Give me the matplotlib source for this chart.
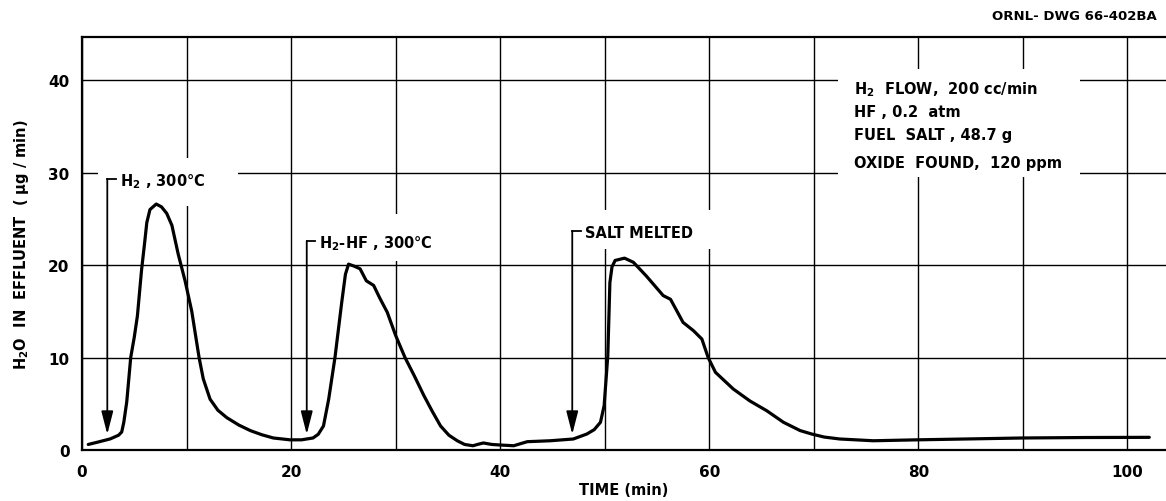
import matplotlib
matplotlib.use("Agg")
import matplotlib.pyplot as plt
from matplotlib.patches import Rectangle

# H2O in effluent vs time
time_min = [0.6, 1.5, 2.7, 3.5, 3.8, 4.0, 4.28, 4.66, 5.0, 5.3, 5.7, 6.0, 6.2, 6.5, 7.1,
            7.6, 8.1, 8.6, 9.2, 9.86, 10.5, 11.2, 11.6, 12.25, 13.0, 13.85, 15.0,
            16.1, 17.2, 18.3, 19.9, 21.0, 22.1, 22.6, 23.1, 23.6, 24.2, 24.85, 25.2,
            25.5, 26.0, 26.6, 27.2, 27.9, 28.5, 29.2, 30.0, 30.9, 31.8, 32.7, 33.5,
            34.3, 35.1, 35.9, 36.6, 37.4, 38.0, 38.4, 39.2, 40.0, 41.3, 42.0, 42.6,
            44.8, 47.0, 48.3, 49.0, 49.6, 49.95, 50.3, 50.5, 50.7, 51.0, 51.9, 52.75,
            54.0, 55.6, 56.3, 57.5, 58.5, 59.3, 59.9, 60.6, 62.3, 63.9, 65.5, 67.1,
            68.7, 69.8, 71.0, 72.5, 75.7, 79.9, 85.0, 90.0, 96.0, 102.1]
h2o_ug_min = [0.6, 0.85, 1.2, 1.6, 1.95, 3.0, 5.2, 10.0, 12.2, 14.5, 19.5, 22.5, 24.6, 26.0, 26.6,
              26.3, 25.6, 24.3, 21.2, 18.3, 15.0, 10.0, 7.7, 5.5, 4.3, 3.5, 2.7,
              2.1, 1.65, 1.3, 1.1, 1.1, 1.3, 1.7, 2.6, 5.5, 10.0, 16.0, 19.0,
              20.1, 19.9, 19.6, 18.3, 17.8, 16.4, 14.9, 12.4, 10.0, 8.0, 5.9, 4.2,
              2.6, 1.6, 1.0, 0.6, 0.46, 0.65, 0.76, 0.6, 0.54, 0.46, 0.7, 0.9,
              1.0, 1.19, 1.73, 2.2, 3.0, 4.8, 10.2, 18.1, 19.8, 20.5, 20.75, 20.3,
              18.8, 16.7, 16.3, 13.8, 12.9, 12.0, 10.0, 8.4, 6.6, 5.3, 4.25, 3.0,
              2.1, 1.73, 1.4, 1.19, 1.0, 1.1, 1.2, 1.3, 1.35, 1.37]

# event markers: (time, label)
events = [(2.42, r"H$_\mathbf{2}$ , 300°C"),
          (21.5, r"H$_\mathbf{2}$-HF , 300°C"),
          (46.9, "SALT MELTED")]
event_top = [29.3, 22.6, 23.7]

notes = [r"H$_\mathbf{2}$  FLOW,  200 cc/min",
         "HF , 0.2  atm",
         "FUEL  SALT , 48.7 g",
         "OXIDE  FOUND,  120 ppm"]

plt.rcParams["mathtext.default"] = "bf"

fig = plt.figure(figsize=(11.66, 5.02), dpi=100)
ax = fig.add_axes([82 / 1166, 51 / 502, 1 - 82 / 1166, 413.3 / 502])
ax.set_xlim(0, 103.7)
ax.set_ylim(0, 44.7)

ax.set_xticks(range(0, 101, 10))
ax.set_xticklabels([str(v) if v % 20 == 0 else "" for v in range(0, 101, 10)])
ax.set_yticks(range(0, 41, 10))
ax.tick_params(length=0, labelsize=11, pad=9)
ax.tick_params(axis="x", pad=10)
for lbl in ax.get_xticklabels() + ax.get_yticklabels():
    lbl.set_fontweight("bold")
ax.grid(True, color="black", lw=1.0, zorder=0)
ax.set_axisbelow(True)
for side in ["left", "bottom", "top"]:
    ax.spines[side].set_linewidth(1.6)
ax.spines["right"].set_visible(False)

# white patches where the lettering was put over the grid
for x0, y0, x1, y1 in [(1.5, 26.4, 14.9, 31.6), (22.5, 20.4, 35.7, 25.5),
                       (47.5, 21.7, 61.0, 26.0), (72.3, 29.5, 95.5, 41.2)]:
    ax.add_patch(Rectangle((x0, y0), x1 - x0, y1 - y0, facecolor="white",
                           edgecolor="none", zorder=1))

ax.plot(time_min, h2o_ug_min, color="black", lw=2.3, solid_capstyle="round",
        solid_joinstyle="round", zorder=3)

for (t, label), top in zip(events, event_top):
    ax.annotate("", xy=(t, 1.7), xytext=(t, top),
                arrowprops=dict(arrowstyle="-|>,head_length=0.7,head_width=0.18",
                                mutation_scale=20, lw=1.3, color="black",
                                shrinkA=0, shrinkB=0), zorder=4)
    ax.plot([t, t + 0.8], [top, top], color="black", lw=1.3, zorder=4)
    ax.text(t + 1.2, top - 0.7, label, fontsize=10.5, fontweight="bold",
            va="baseline", ha="left", zorder=5)

for i, line in enumerate(notes):
    ax.text(73.9, [38.55, 36.1, 33.6, 30.6][i], line, fontsize=10.5, fontweight="bold",
            va="baseline", ha="left", zorder=5)

ax.set_xlabel("TIME (min)", fontsize=10.5, fontweight="bold", labelpad=2)
ax.set_ylabel(r"H$_\mathbf{2}$O  IN  EFFLUENT  ( μg / min)", fontsize=10.5,
              fontweight="bold", labelpad=12)

fig.text(1157 / 1166, 1 - 17 / 502, "ORNL- DWG 66-402BA", fontsize=9.5,
         fontweight="bold", ha="right", va="center")

fig.savefig("out.png", dpi=100)
